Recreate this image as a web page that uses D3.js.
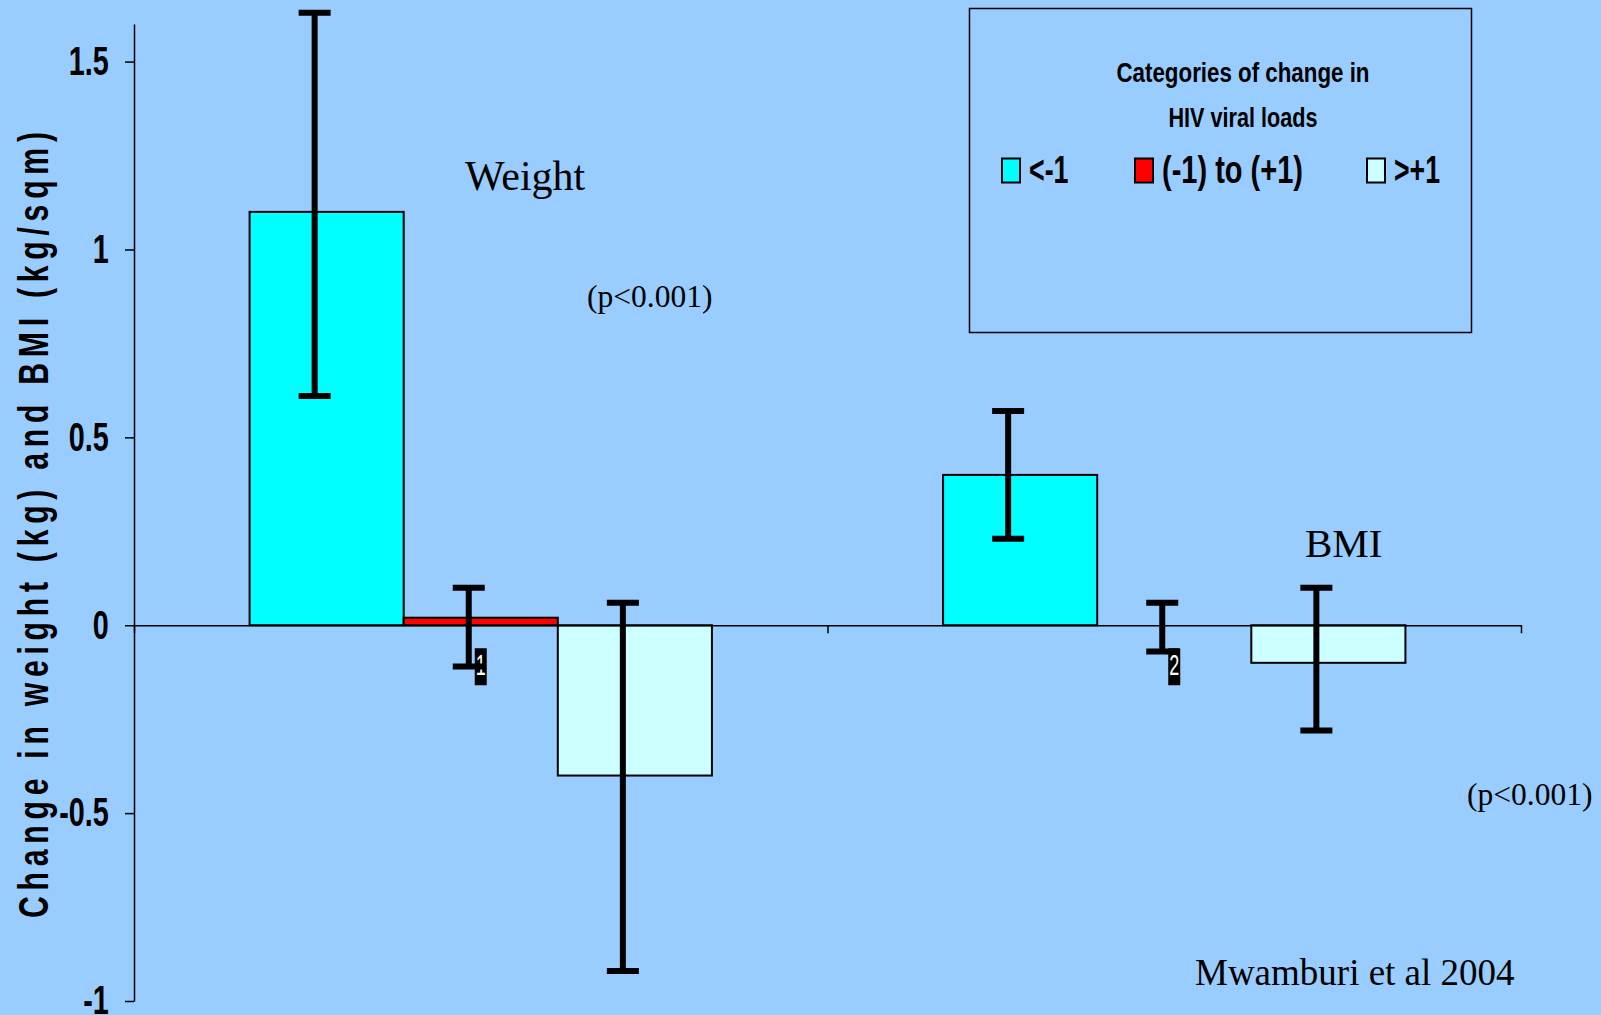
<!DOCTYPE html>
<html>
<head>
<meta charset="utf-8">
<script src="https://cdn.jsdelivr.net/npm/d3@7"></script>
<style>
  html, body { margin: 0; padding: 0; background: #99CCFF; overflow: hidden; }
  svg { display: block; }
</style>
</head>
<body>
<svg id="chart" width="1601" height="1015"></svg>
<script>
// ---- data ----
const groups = ["Weight", "BMI"];
const seriesNames = ["<-1", "(-1) to (+1)", ">+1"];
const seriesColors = ["#00FFFF", "#FF0000", "#CCFFFF"];
const weightChange = [1.10, 0.02, -0.40];
const bmiChange = [0.40, 0.00, -0.10];
const weightLower = [0.61, -0.11, -0.92];
const weightUpper = [1.63, 0.10, 0.06];
const bmiLower = [0.23, -0.07, -0.28];
const bmiUpper = [0.57, 0.06, 0.10];
const yTicks = [-1, -0.5, 0, 0.5, 1, 1.5];
const yTickLabels = ["-1", "-0.5", "0", "0.5", "1", "1.5"];
const middleLabels = ["1", "2"];
const pValueText = "(p<0.001)";
const sourceText = "Mwamburi et al 2004";
const legendTitle = ["Categories of change in", "HIV viral loads"];
const yTitle = "Change in weight (kg) and BMI (kg/sqm)";

const rows = groups.flatMap((g, gi) => seriesNames.map((s, si) => ({
  group: g, series: s, si,
  value: gi === 0 ? weightChange[si] : bmiChange[si],
  lo: gi === 0 ? weightLower[si] : bmiLower[si],
  hi: gi === 0 ? weightUpper[si] : bmiUpper[si]
})));

// ---- layout ----
const svg = d3.select("#chart");
const plot = { left: 134, right: 1521, top: 24, bottom: 1001 };
const sans = "'Liberation Sans', Arial, sans-serif";
const serif = "'Liberation Serif', 'Times New Roman', serif";

const y = d3.scaleLinear().domain([-1, 1.6]).range([plot.bottom, plot.top]);
const x0 = d3.scaleBand().domain(groups).range([plot.left, plot.right]).padding(0);
const x1 = d3.scaleBand().domain(seriesNames).range([0, x0.bandwidth()])
  .paddingInner(0).paddingOuter(0.75);
const color = d3.scaleOrdinal().domain(seriesNames).range(seriesColors);
const barCenter = d => x0(d.group) + x1(d.series) + x1.bandwidth() / 2;

// ---- bars ----
svg.append("g").selectAll("rect").data(rows).join("rect")
  .attr("x", d => x0(d.group) + x1(d.series))
  .attr("y", d => y(Math.max(0, d.value)))
  .attr("width", x1.bandwidth())
  .attr("height", d => Math.abs(y(d.value) - y(0)))
  .attr("fill", d => color(d.series))
  .attr("stroke", "#000")
  .attr("stroke-width", 2);

// ---- x axis (zero line with group boundary ticks) ----
const xb = d3.scaleLinear().domain([0, groups.length]).range([plot.left, plot.right]);
const xAxis = svg.append("g")
  .attr("transform", `translate(0,${y(0)})`)
  .call(d3.axisBottom(xb).tickValues(d3.range(groups.length + 1)).tickFormat("").tickSize(8).tickSizeOuter(0));
xAxis.select(".domain").attr("stroke", "#000").attr("stroke-width", 1.5);
xAxis.selectAll(".tick line").attr("stroke", "#000").attr("stroke-width", 1.5);

// ---- y axis ----
const yAxis = svg.append("g")
  .attr("transform", `translate(${plot.left},0)`)
  .call(d3.axisLeft(y).tickValues(yTicks).tickFormat((d, i) => yTickLabels[i]).tickSize(9).tickSizeOuter(0));
yAxis.select(".domain").attr("stroke", "#000").attr("stroke-width", 1.5);
yAxis.selectAll(".tick line").attr("stroke", "#000").attr("stroke-width", 1.5);
yAxis.selectAll(".tick text")
  .attr("x", -35)
  .attr("transform", "scale(0.72,1)")
  .attr("fill", "#000")
  .style("font-family", sans)
  .style("font-weight", "bold")
  .style("font-size", "40px");

// ---- labels under the middle series ----
const midRows = rows.filter(d => d.si === 1);
const labelG = svg.append("g");
labelG.selectAll("rect").data(midRows).join("rect")
  .attr("x", d => barCenter(d) - 6)
  .attr("y", y(0) + 23)
  .attr("width", 12)
  .attr("height", 37)
  .attr("fill", "#000");
labelG.selectAll("text").data(midRows).join("text")
  .attr("transform", d => `translate(${barCenter(d)},${y(0) + 50}) scale(0.62,1)`)
  .attr("text-anchor", "middle")
  .attr("fill", "#fff")
  .style("font-family", sans)
  .style("font-size", "29px")
  .text((d, i) => middleLabels[i]);

// ---- error bars ----
const capHalf = 16;
const errG = svg.append("g").attr("transform", "translate(-12,0)")
  .attr("stroke", "#000").attr("stroke-width", 6).attr("fill", "none");
const eb = errG.selectAll("g").data(rows).join("g");
eb.append("line")
  .attr("x1", barCenter).attr("x2", barCenter)
  .attr("y1", d => y(d.hi)).attr("y2", d => y(d.lo));
eb.append("line")
  .attr("x1", d => barCenter(d) - capHalf).attr("x2", d => barCenter(d) + capHalf)
  .attr("y1", d => y(d.hi)).attr("y2", d => y(d.hi));
eb.append("line")
  .attr("x1", d => barCenter(d) - capHalf).attr("x2", d => barCenter(d) + capHalf)
  .attr("y1", d => y(d.lo)).attr("y2", d => y(d.lo));

// ---- y axis title ----
svg.append("text")
  .attr("transform", "translate(47.5,525) rotate(-90) scale(0.72,1)")
  .attr("text-anchor", "middle")
  .attr("textLength", 786 / 0.72)
  .attr("lengthAdjust", "spacing")
  .style("font-family", sans)
  .style("font-weight", "bold")
  .style("font-size", "42px")
  .attr("fill", "#000")
  .text(yTitle);

// ---- annotations ----
const note = (txt, x, yy, size) => svg.append("text")
  .attr("x", x).attr("y", yy)
  .style("font-family", serif).style("font-size", size + "px")
  .attr("fill", "#000").text(txt);
note(groups[0], 465, 190, 42);
note(pValueText, 587, 306.5, 31.5);
note(groups[1], 1305, 557, 41);
note(pValueText, 1467, 805, 31.5);
note(sourceText, 1195, 985, 37);

// ---- legend ----
const lg = svg.append("g");
lg.append("rect")
  .attr("x", 969.5).attr("y", 8.5).attr("width", 502).attr("height", 324)
  .attr("fill", "none").attr("stroke", "#000").attr("stroke-width", 1.5);
const titleWidths = [253, 149];
lg.selectAll("text.ltitle").data(legendTitle).join("text")
  .attr("class", "ltitle")
  .attr("x", 1243).attr("y", (d, i) => 81.5 + i * 45)
  .attr("text-anchor", "middle")
  .attr("textLength", (d, i) => titleWidths[i])
  .attr("lengthAdjust", "spacingAndGlyphs")
  .style("font-family", sans).style("font-weight", "bold").style("font-size", "28px")
  .attr("fill", "#000")
  .text(d => d);
const itemX = [1002, 1135, 1367];
const itemWidths = [39.5, 141, 46];
const items = lg.selectAll("g.item").data(seriesNames).join("g")
  .attr("class", "item")
  .attr("transform", (d, i) => `translate(${itemX[i]},0)`);
items.append("rect")
  .attr("x", 0).attr("y", 158.5).attr("width", 18).attr("height", 24)
  .attr("fill", d => color(d)).attr("stroke", "#000").attr("stroke-width", 2);
items.append("text")
  .attr("x", 27).attr("y", 183)
  .attr("textLength", (d, i) => itemWidths[i])
  .attr("lengthAdjust", "spacingAndGlyphs")
  .style("font-family", sans).style("font-weight", "bold").style("font-size", "39px")
  .attr("fill", "#000")
  .text(d => d);
</script>
</body>
</html>
